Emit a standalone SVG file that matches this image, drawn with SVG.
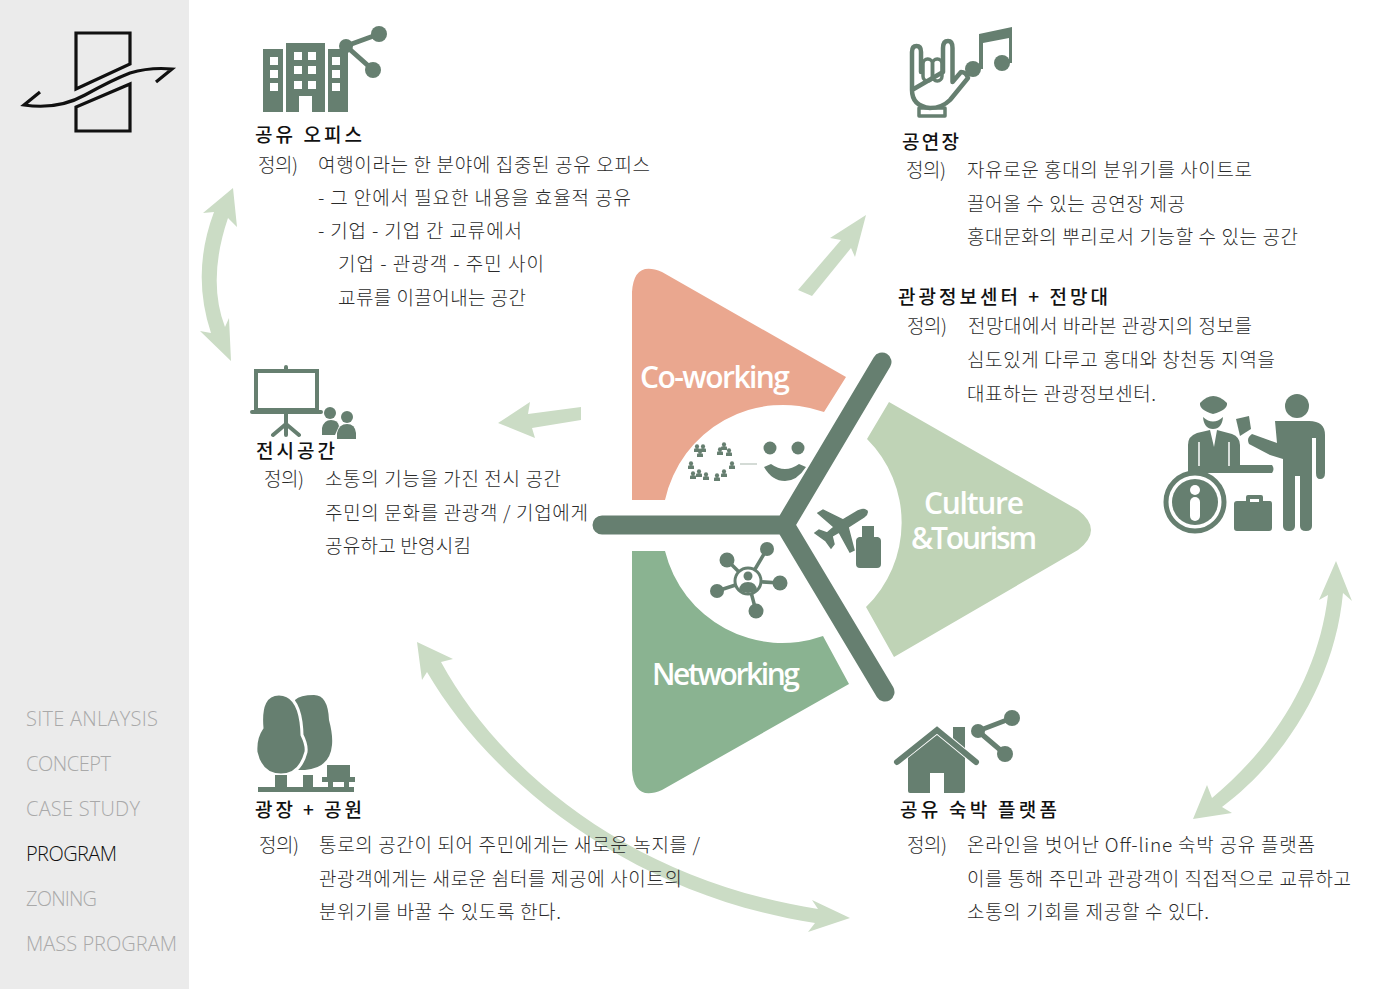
<svg xmlns="http://www.w3.org/2000/svg" xmlns:xlink="http://www.w3.org/1999/xlink" width="1400" height="989" viewBox="0 0 1400 989">
<style>
text{font-family:"Noto Sans CJK KR","Noto Sans",sans-serif}
.t{font-size:19px;font-weight:300;fill:#2b2b2b}
.h{font-size:19px;font-weight:500;fill:#111}
.m{font-family:"Open Sans","Liberation Sans",sans-serif;font-size:20px;font-weight:300;fill:#a9a9a9}
.w{font-family:"Open Sans","Liberation Sans",sans-serif;font-size:30px;font-weight:600;fill:#fff}
.i{fill:#667f70}
.o{fill:none;stroke:#667f70;stroke-linecap:round;stroke-linejoin:round}
.a{fill:#cbdcc5}
.wh{fill:#fff}
</style>
<defs>
<g id="mini"><circle cx="0" cy="-2.6" r="2.1" class="i"/><path d="M-3,3V0.5Q-3,-1 0,-1Q3,-1 3,0.5V3Z" class="i"/></g>
</defs>
<rect width="1400" height="989" fill="#fff"/>
<g id="sidebar">
<rect width="189" height="989" fill="#ebebeb"/>
<g id="logo">
<path d="M76,33H130V64L76,89ZM130,84V131H76V107Z" fill="none" stroke="#111" stroke-width="3.2"/>
<path d="M40,92L22,105Q58,110 85,95T130,72Q150,66 175,69L156,82" fill="none" stroke="#ebebeb" stroke-width="9"/>
<path d="M40,92L24,105Q58,110 85,95T130,73Q150,67 172,69L156,82" fill="none" stroke="#111" stroke-width="3.2"/>
</g>
<text class="m" x="26" y="726" textLength="132">SITE ANLAYSIS</text>
<text class="m" x="26" y="771" textLength="85">CONCEPT</text>
<text class="m" x="26" y="816" textLength="114">CASE STUDY</text>
<text class="m" x="26" y="861" textLength="91" style="fill:#111">PROGRAM</text>
<text class="m" x="26" y="906" textLength="71">ZONING</text>
<text class="m" x="26" y="951" textLength="151">MASS PROGRAM</text>
</g>
<g id="connectors">
<path id="c-top-left" class="a" d="M233,188L203,213L214,212Q191,273 211,333L200,331L231,361L229,318L225,327Q207,280 228,218L237,227Z"/>
<path id="c-exhibit" class="a" d="M498,423L530,402L528,414L581,407V420L532,428L535,438Z"/>
<path id="c-stage" class="a" d="M866,215L830,238L841,240L798,290L812,296L851,248L855,257Z"/>
<path id="c-long" class="a" d="M417,642L453,659L441,662C500,770 630,880 818,909L812,900L850,918L808,932L815,923C630,895 490,780 427,672L422,680Z"/>
<path id="c-right" class="a" d="M1336,561L1352,601L1343,593C1335,680 1285,760 1222,807L1232,813L1193,819L1207,785L1212,798C1270,750 1318,680 1328,595L1319,600Z"/>
</g>
<g id="hub">
<g id="co-working">
<path d="M632,500V292Q634,260 662,272L846,377L824,412A121,121 0 0 0 665,500Z" fill="#eaa78f"/>
<text class="w" x="640" y="388" textLength="150">Co-working</text>
</g>
<g id="culture-tourism">
<path d="M889,402L1078,510Q1104,530 1078,550L894,657L866,607A118,118 0 0 0 867,439Z" fill="#bfd3b6"/>
<text class="w" x="974" y="514" text-anchor="middle" textLength="100">Culture</text>
<text class="w" x="974" y="549" text-anchor="middle" textLength="126">&amp;Tourism</text>
</g>
<g id="networking">
<path d="M632,551H665A121,121 0 0 0 823,636L849,684L662,790Q634,802 632,770Z" fill="#8ab391"/>
<text class="w" x="652" y="685" textLength="148">Networking</text>
</g>
<path id="y-divider" d="M602,525H785L882,362M785,525L885,692" fill="none" stroke="#667f70" stroke-width="19" stroke-linecap="round" stroke-linejoin="miter"/>
<g id="icon-smile">
<circle cx="770" cy="448" r="6.5" class="i"/><circle cx="798" cy="448" r="6.5" class="i"/>
<path d="M764,467L771,464Q785,474 799,464L806,467Q797,481 785,481Q772,481 764,467Z" class="i"/>
<path d="M740,464H757" stroke="#b7c4bb" stroke-width="1.2"/>
<use xlink:href="#mini" href="#mini" x="697" y="449"/><use xlink:href="#mini" href="#mini" x="703" y="449"/><use xlink:href="#mini" href="#mini" x="700" y="454"/>
<use xlink:href="#mini" href="#mini" x="724" y="447"/><use xlink:href="#mini" href="#mini" x="720" y="452"/><use xlink:href="#mini" href="#mini" x="729" y="453"/>
<use xlink:href="#mini" href="#mini" x="691" y="466"/><use xlink:href="#mini" href="#mini" x="693" y="476"/><use xlink:href="#mini" href="#mini" x="699" y="474"/><use xlink:href="#mini" href="#mini" x="706" y="477"/><use xlink:href="#mini" href="#mini" x="717" y="478"/><use xlink:href="#mini" href="#mini" x="724" y="474"/><use xlink:href="#mini" href="#mini" x="732" y="466"/>
</g>
<g id="icon-plane">
<path d="M867,511Q864,508 858,511L843,520L823,510L818,513L834,527L827,533L819,530L815,533L826,541L831,548L834,544L832,536L839,532L850,552L854,550L848,527L864,517Q868,514 867,511Z" class="i" stroke="#667f70" stroke-width="1.5"/>
<path d="M862,526H874V537H878Q881,538 881,541V564Q881,568 877,568H860Q856,568 856,564V541Q856,538 859,537H862Z" class="i"/>
</g>
<g id="icon-network">
<path d="M748,581L767,549M748,581L727,560M748,581L717,591M748,581L780,583M748,581L756,611" class="o" stroke-width="3.5"/>
<circle cx="767" cy="549" r="7" class="i"/><circle cx="727" cy="560" r="7.5" class="i"/><circle cx="717" cy="591" r="7" class="i"/><circle cx="780" cy="583" r="7.5" class="i"/><circle cx="756" cy="611" r="7.5" class="i"/>
<circle cx="748" cy="581" r="13" class="wh" stroke="#667f70" stroke-width="3"/>
<circle cx="748" cy="576" r="4.5" class="i"/><path d="M739,590Q740,582 748,582Q756,582 757,590Q748,596 739,590Z" class="i"/>
</g>
</g>
<g id="node-office">
<path class="i" d="M263,49H283V112H263ZM286,43H325V112H312V96H299V112H286ZM328,49H348V112H328Z"/>
<path class="wh" d="M270,57h8v8h-8zM270,70h8v8h-8zM270,83h8v8h-8zM294,52h8v8h-8zM308,52h8v8h-8zM294,66h8v8h-8zM308,66h8v8h-8zM294,81h8v8h-8zM308,81h8v8h-8zM332,57h8v8h-8zM332,70h8v8h-8zM332,83h8v8h-8z"/>
<path d="M346,46L379,34M346,46L373,70" class="o" stroke-width="5"/>
<circle cx="379" cy="34" r="8" class="i"/><circle cx="346" cy="46" r="7" class="i"/><circle cx="373" cy="70" r="8" class="i"/>
<text class="h" x="255" y="142" textLength="107">공유 오피스</text>
<text class="t" x="258" y="172" textLength="40">정의)</text>
<text class="t" x="318" y="172" textLength="332">여행이라는 한 분야에 집중된 공유 오피스</text>
<text class="t" x="318" y="205" textLength="313">- 그 안에서 필요한 내용을 효율적 공유</text>
<text class="t" x="318" y="238" textLength="204">- 기업 - 기업 간 교류에서</text>
<text class="t" x="338" y="271" textLength="206">기업 - 관광객 - 주민 사이</text>
<text class="t" x="338" y="305" textLength="188">교류를 이끌어내는 공간</text>
</g>
<g id="node-stage">
<path d="M912,90V52Q912,46 916.5,46Q921,46 921,52V72M943,72V48Q943,41 948,41Q952.5,41 952.5,48V82L961,72Q966,72 968,78L950,100Q942,108 930,108Q912,106 912,90Z" class="o" stroke-width="4.5"/>
<rect x="923" y="59" width="9.5" height="22" rx="4.7" class="o" stroke-width="3.5"/>
<rect x="932.5" y="59" width="9.5" height="22" rx="4.7" class="o" stroke-width="3.5"/>
<rect x="919" y="108" width="26" height="8" class="o" stroke-width="3.5"/>
<circle cx="973" cy="69" r="8" class="i"/><circle cx="1002" cy="63" r="8" class="i"/>
<path d="M979,34L1012,27V63H1009V38L983,43V69H979Z" class="i"/>
<text class="h" x="902" y="149" textLength="57">공연장</text>
<text class="t" x="906" y="177" textLength="40">정의)</text>
<text class="t" x="967" y="177" textLength="285">자유로운 홍대의 분위기를 사이트로</text>
<text class="t" x="967" y="211" textLength="218">끌어올 수 있는 공연장 제공</text>
<text class="t" x="967" y="244" textLength="331">홍대문화의 뿌리로서 기능할 수 있는 공간</text>
</g>
<g id="node-tourism-center">
<path class="i" d="M1200,403Q1213,389 1227,403Q1228,410 1213,414Q1199,410 1200,403Z"/>
<path d="M1203,417Q1213,426 1223,417Q1222,429 1213,429Q1204,429 1203,417Z" class="i"/>
<path class="i" d="M1188,473V445Q1188,436 1197,433L1210,430L1214,447L1217,430L1232,434Q1240,437 1240,445V465H1272Q1275,469 1272,473Z"/>
<path d="M1199,442V466M1229,442V466" stroke="#fff" stroke-width="1.5"/>
<path class="i" d="M1236,419L1249,416L1251,429L1240,436Z"/>
<circle cx="1297" cy="406" r="12" class="i"/>
<path class="i" d="M1275,421Q1286,421 1289,421H1309Q1325,421 1325,435V473Q1325,479 1320,479Q1316,479 1316,473V438H1312V526Q1312,531 1306,531Q1300,531 1300,526V476H1295V526Q1295,531 1289,531Q1283,531 1283,526V459L1270,455L1249,444Q1246,438 1252,434L1277,443Z"/>
<circle cx="1195" cy="502" r="29" fill="none" stroke="#667f70" stroke-width="5"/>
<circle cx="1195" cy="502" r="23" class="i"/>
<circle cx="1195" cy="490" r="5" class="wh"/><rect x="1190" y="497" width="10" height="24" rx="5" class="wh"/>
<path class="i" d="M1246,501V497Q1246,495 1248,495H1261Q1263,495 1263,497V501H1270Q1272,501 1272,504V528Q1272,531 1269,531H1237Q1234,531 1234,528V504Q1234,501 1237,501ZM1250,499V502H1259V499Z"/>
<text class="h" x="898" y="304" textLength="210">관광정보센터 + 전망대</text>
<text class="t" x="907" y="333" textLength="40">정의)</text>
<text class="t" x="968" y="333" textLength="284">전망대에서 바라본 관광지의 정보를</text>
<text class="t" x="967" y="367" textLength="308">심도있게 다루고 홍대와 창천동 지역을</text>
<text class="t" x="967" y="401" textLength="189">대표하는 관광정보센터.</text>
</g>
<g id="node-exhibition">
<rect x="256" y="371" width="61" height="39" fill="none" stroke="#667f70" stroke-width="4"/>
<path d="M252,412H321M286,412V435M286,424L273,435M286,424L299,435M286,371V367" class="o" stroke-width="4"/>
<circle cx="330" cy="413" r="6" class="i"/><circle cx="347" cy="417" r="6" class="i"/>
<path class="i" d="M322,435V428Q324,420 331,420Q338,420 339,426L335,435Z"/>
<path class="i" d="M337,439V433Q339,424 347,424Q355,424 356,433V439Z"/>
<text class="h" x="256" y="458" textLength="79">전시공간</text>
<text class="t" x="264" y="486" textLength="40">정의)</text>
<text class="t" x="325" y="486" textLength="236">소통의 기능을 가진 전시 공간</text>
<text class="t" x="325" y="520" textLength="263">주민의 문화를 관광객 / 기업에게</text>
<text class="t" x="325" y="553" textLength="146">공유하고 반영시킴</text>
</g>
<g id="node-park">
<path class="i" d="M314,695Q328,695 329,720Q333,735 332,745Q330,768 305,770H295V700Q300,695 314,695Z"/>
<path class="i" stroke="#fff" stroke-width="3" d="M279,694Q297,694 301,722Q302,730 302,735Q307,745 306,752Q300,775 281,775Q261,775 256,752Q255,738 262,728Q259,694 279,694Z"/>
<path class="i" d="M275,775H287V788H275ZM303,775H313V788H303ZM258,787H354V792H258ZM327,765H350V777H355V782H349V788H344V782H333V788H328V782H322V777H327Z"/>
<text class="h" x="255" y="817" textLength="107">광장 + 공원</text>
<text class="t" x="259" y="852" textLength="40">정의)</text>
<text class="t" x="319" y="852" textLength="381">통로의 공간이 되어 주민에게는 새로운 녹지를 /</text>
<text class="t" x="319" y="886" textLength="363">관광객에게는 새로운 쉼터를 제공에 사이트의</text>
<text class="t" x="319" y="919" textLength="242">분위기를 바꿀 수 있도록 한다.</text>
</g>
<g id="node-lodging">
<path class="i" d="M908,758L937,735L965,758V791Q965,793 963,793H944V773H930V793H910Q908,793 908,791Z"/>
<path d="M897,762L937,730L976,762" fill="none" stroke="#667f70" stroke-width="6" stroke-linecap="round"/>
<path class="i" d="M953,727H965V748L953,738Z"/>
<path d="M978,731L1012,718M978,731L1005,754" class="o" stroke-width="5"/>
<circle cx="1012" cy="718" r="8" class="i"/><circle cx="978" cy="731" r="7" class="i"/><circle cx="1005" cy="754" r="8" class="i"/>
<text class="h" x="900" y="817" textLength="157">공유 숙박 플랫폼</text>
<text class="t" x="907" y="852" textLength="40">정의)</text>
<text class="t" x="967" y="852" textLength="348">온라인을 벗어난 Off-line 숙박 공유 플랫폼</text>
<text class="t" x="967" y="886" textLength="384">이를 통해 주민과 관광객이 직접적으로 교류하고</text>
<text class="t" x="967" y="919" textLength="242">소통의 기회를 제공할 수 있다.</text>
</g>
</svg>
